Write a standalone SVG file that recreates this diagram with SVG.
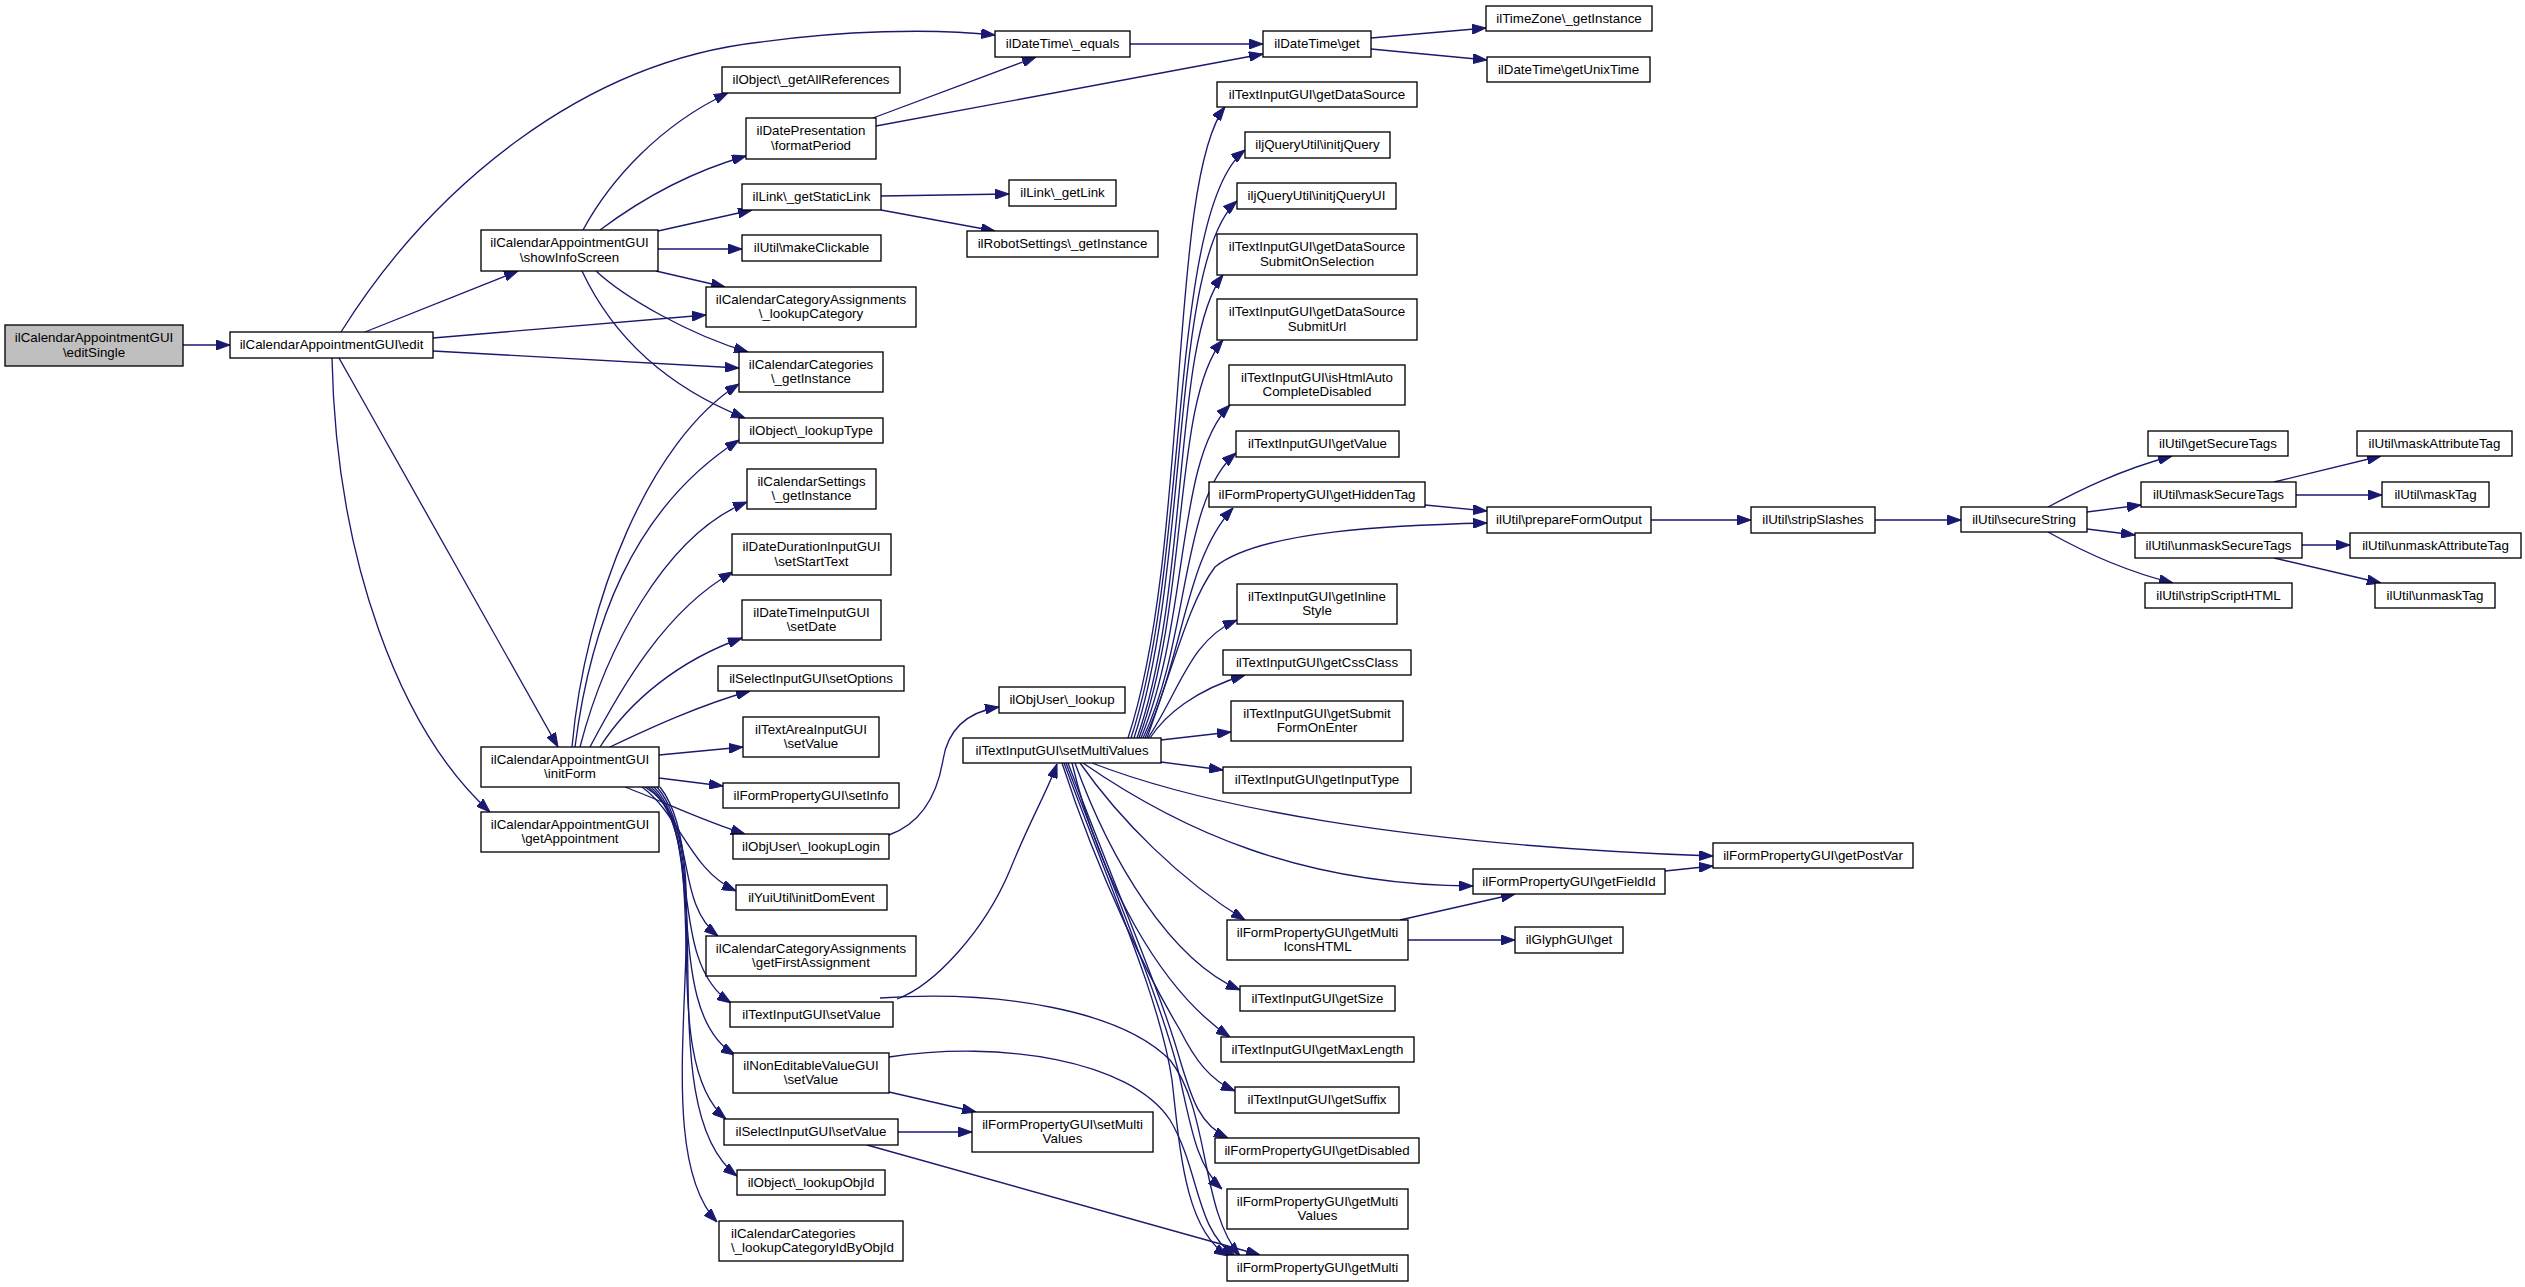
<svg xmlns="http://www.w3.org/2000/svg" width="2525" height="1287" viewBox="0 0 2525 1287">
<style>
.node rect{fill:#ffffff;stroke:#000000;stroke-width:1.33}
.node.root rect{fill:#bfbfbf}
.node text{font-family:"Liberation Sans",Arial,Helvetica,sans-serif;font-size:13.33px;fill:#000;text-anchor:middle}
.node text.l{text-anchor:start}
.edges path{fill:none;stroke:#191970;stroke-width:1.33;marker-end:url(#arr)}
</style>
<defs>
<marker id="arr" markerUnits="userSpaceOnUse" markerWidth="14" markerHeight="10" refX="14" refY="5" orient="auto" viewBox="0 0 14 10">
<path d="M0,0 L14,5 L0,10 z" fill="#191970" stroke="#191970" stroke-width="1"/>
</marker>
</defs>
<rect x="0" y="0" width="2525" height="1287" fill="#ffffff"/>
<g class="edges" id="edges">
<path d="M183,345 L230,345"/>
<path d="M341,332 C430,190 580,62 761,42 C840,31 930,28 995,35"/>
<path d="M365,332 L518,271"/>
<path d="M433,338 L706,315"/>
<path d="M433,351 C550,358 650,364 739,368"/>
<path d="M339,358 L558,747"/>
<path d="M332,358 C336,560 400,730 490,812"/>
<path d="M583,230 C610,180 660,125 728,93"/>
<path d="M600,230 C640,200 690,172 746,156"/>
<path d="M658,231 L752,210"/>
<path d="M658,249 L742,249"/>
<path d="M656,271 L725,287"/>
<path d="M596,271 C625,298 690,335 748,352"/>
<path d="M582,271 C605,320 650,380 745,418"/>
<path d="M572,747 C585,600 650,440 739,384"/>
<path d="M575,747 C590,630 630,510 739,440"/>
<path d="M580,747 C605,650 665,535 747,502"/>
<path d="M590,747 C620,690 665,610 733,572"/>
<path d="M600,747 C630,700 680,660 742,638"/>
<path d="M610,747 C650,728 700,705 750,691"/>
<path d="M659,755 L743,747"/>
<path d="M659,778 L723,786"/>
<path d="M625,787 C660,800 700,820 745,834"/>
<path d="M642,787 C680,815 690,870 736,891"/>
<path d="M645,787 C700,820 672,900 718,936"/>
<path d="M648,787 C705,830 665,960 731,1003"/>
<path d="M651,787 C710,840 660,1010 735,1055"/>
<path d="M654,787 C715,850 655,1060 726,1119"/>
<path d="M657,787 C720,860 650,1110 737,1176"/>
<path d="M660,787 C725,870 640,1140 717,1222"/>
<path d="M889,835 C925,822 938,790 943,760 C948,728 968,712 999,707"/>
<path d="M873,118 L1036,57"/>
<path d="M876,126 L1263,54"/>
<path d="M1130,44 L1263,44"/>
<path d="M1371,38 L1486,28"/>
<path d="M1371,49 L1487,60"/>
<path d="M881,196 L1009,194"/>
<path d="M881,210 L995,231"/>
<path d="M1128,738 C1190,550 1168,180 1225,107"/>
<path d="M1131,738 C1190,560 1168,210 1245,150"/>
<path d="M1134,738 C1190,570 1170,260 1237,201"/>
<path d="M1137,738 C1190,590 1172,340 1223,275"/>
<path d="M1139,738 C1190,600 1172,400 1223,340"/>
<path d="M1141,738 C1190,620 1175,460 1230,405"/>
<path d="M1143,738 C1190,640 1180,500 1236,453"/>
<path d="M1145,738 C1185,650 1185,560 1233,508"/>
<path d="M1147,738 C1175,660 1190,600 1215,567 C1260,530 1400,525 1487,523"/>
<path d="M1148,738 C1180,690 1190,640 1237,620"/>
<path d="M1150,738 C1165,715 1195,690 1245,675"/>
<path d="M1161,740 L1231,732"/>
<path d="M1161,762 L1223,770"/>
<path d="M1092,763 C1200,805 1400,845 1713,856"/>
<path d="M1083,763 C1180,830 1300,885 1473,886"/>
<path d="M1080,763 C1120,820 1180,880 1245,920"/>
<path d="M1075,763 C1110,860 1170,960 1240,990"/>
<path d="M1072,763 C1100,880 1160,990 1230,1037"/>
<path d="M1062,763 C1100,880 1150,980 1180,1030 C1195,1060 1210,1080 1235,1091"/>
<path d="M1068,763 C1120,900 1160,990 1180,1060 C1192,1100 1200,1125 1228,1138"/>
<path d="M1066,763 C1118,900 1160,1000 1178,1070 C1190,1120 1195,1165 1222,1189"/>
<path d="M1064,763 C1115,900 1160,1000 1172,1080 C1180,1150 1185,1230 1228,1256"/>
<path d="M897,999 C935,985 985,930 1010,870 C1030,820 1048,790 1057,764"/>
<path d="M880,998 C1000,990 1120,1010 1170,1060 C1210,1110 1200,1210 1240,1256"/>
<path d="M889,1057 C1000,1040 1130,1060 1170,1120 C1200,1170 1195,1230 1235,1256"/>
<path d="M867,1145 L1260,1255"/>
<path d="M889,1092 L976,1112"/>
<path d="M898,1132 L972,1132"/>
<path d="M1400,920 L1515,894"/>
<path d="M1408,940 L1515,940"/>
<path d="M1665,871 L1713,866"/>
<path d="M1425,505 L1487,511"/>
<path d="M1651,520 L1751,520"/>
<path d="M1875,520 L1961,520"/>
<path d="M2048,507 C2080,490 2120,470 2172,456"/>
<path d="M2087,512 L2141,505"/>
<path d="M2087,529 L2135,535"/>
<path d="M2048,532 C2080,550 2120,570 2173,583"/>
<path d="M2274,482 L2381,456"/>
<path d="M2296,495 L2382,495"/>
<path d="M2302,545 L2350,545"/>
<path d="M2274,558 L2381,583"/>
</g>
<g id="n_editSingle" class="node root"><rect x="5" y="325" width="178" height="41"/><text x="94" y="342">ilCalendarAppointmentGUI</text><text x="94" y="356.5">\editSingle</text></g>
<g id="n_edit" class="node"><rect x="230" y="332" width="203" height="26"/><text x="331.5" y="349">ilCalendarAppointmentGUI\edit</text></g>
<g id="n_showInfoScreen" class="node"><rect x="481" y="230" width="177" height="41"/><text x="569.5" y="247">ilCalendarAppointmentGUI</text><text x="569.5" y="261.5">\showInfoScreen</text></g>
<g id="n_initForm" class="node"><rect x="481" y="747" width="178" height="40"/><text x="570" y="763.5">ilCalendarAppointmentGUI</text><text x="570" y="778">\initForm</text></g>
<g id="n_getAppointment" class="node"><rect x="481" y="812" width="178" height="40"/><text x="570" y="828.5">ilCalendarAppointmentGUI</text><text x="570" y="843">\getAppointment</text></g>
<g id="n_equals" class="node"><rect x="995" y="31" width="135" height="26"/><text x="1062.5" y="48">ilDateTime\_equals</text></g>
<g id="n_getAllReferences" class="node"><rect x="722" y="67" width="178" height="26"/><text x="811" y="84">ilObject\_getAllReferences</text></g>
<g id="n_formatPeriod" class="node"><rect x="746" y="118" width="130" height="41"/><text x="811" y="135">ilDatePresentation</text><text x="811" y="149.5">\formatPeriod</text></g>
<g id="n_getStaticLink" class="node"><rect x="742" y="184" width="139" height="26"/><text x="811.5" y="201">ilLink\_getStaticLink</text></g>
<g id="n_getLink" class="node"><rect x="1009" y="180" width="107" height="26"/><text x="1062.5" y="197">ilLink\_getLink</text></g>
<g id="n_robotGetInstance" class="node"><rect x="967" y="231" width="191" height="26"/><text x="1062.5" y="248">ilRobotSettings\_getInstance</text></g>
<g id="n_makeClickable" class="node"><rect x="742" y="235" width="139" height="26"/><text x="811.5" y="252">ilUtil\makeClickable</text></g>
<g id="n_lookupCategory" class="node"><rect x="706" y="287" width="210" height="40"/><text x="811" y="303.5">ilCalendarCategoryAssignments</text><text x="811" y="318">\_lookupCategory</text></g>
<g id="n_catGetInstance" class="node"><rect x="739" y="352" width="144" height="40"/><text x="811" y="368.5">ilCalendarCategories</text><text x="811" y="383">\_getInstance</text></g>
<g id="n_lookupType" class="node"><rect x="739" y="418" width="144" height="25"/><text x="811" y="434.5">ilObject\_lookupType</text></g>
<g id="n_calSettings" class="node"><rect x="747" y="469" width="129" height="40"/><text x="811.5" y="485.5">ilCalendarSettings</text><text x="811.5" y="500">\_getInstance</text></g>
<g id="n_setStartText" class="node"><rect x="732" y="534" width="159" height="41"/><text x="811.5" y="551">ilDateDurationInputGUI</text><text x="811.5" y="565.5">\setStartText</text></g>
<g id="n_setDate" class="node"><rect x="742" y="600" width="139" height="40"/><text x="811.5" y="616.5">ilDateTimeInputGUI</text><text x="811.5" y="631">\setDate</text></g>
<g id="n_setOptions" class="node"><rect x="718" y="666" width="186" height="25"/><text x="811" y="682.5">ilSelectInputGUI\setOptions</text></g>
<g id="n_textAreaSetValue" class="node"><rect x="743" y="717" width="136" height="40"/><text x="811" y="733.5">ilTextAreaInputGUI</text><text x="811" y="748">\setValue</text></g>
<g id="n_setInfo" class="node"><rect x="723" y="783" width="176" height="25"/><text x="811" y="799.5">ilFormPropertyGUI\setInfo</text></g>
<g id="n_lookupLogin" class="node"><rect x="733" y="834" width="156" height="25"/><text x="811" y="850.5">ilObjUser\_lookupLogin</text></g>
<g id="n_initDomEvent" class="node"><rect x="736" y="885" width="151" height="25"/><text x="811.5" y="901.5">ilYuiUtil\initDomEvent</text></g>
<g id="n_getFirstAssignment" class="node"><rect x="706" y="936" width="210" height="40"/><text x="811" y="952.5">ilCalendarCategoryAssignments</text><text x="811" y="967">\getFirstAssignment</text></g>
<g id="n_textSetValue" class="node"><rect x="730" y="1002" width="163" height="25"/><text x="811.5" y="1018.5">ilTextInputGUI\setValue</text></g>
<g id="n_nonEditSetValue" class="node"><rect x="733" y="1053" width="156" height="40"/><text x="811" y="1069.5">ilNonEditableValueGUI</text><text x="811" y="1084">\setValue</text></g>
<g id="n_selectSetValue" class="node"><rect x="724" y="1119" width="174" height="26"/><text x="811" y="1136">ilSelectInputGUI\setValue</text></g>
<g id="n_lookupObjId" class="node"><rect x="737" y="1170" width="148" height="25"/><text x="811" y="1186.5">ilObject\_lookupObjId</text></g>
<g id="n_lookupCategoryIdByObjId" class="node"><rect x="719" y="1221" width="184" height="40"/><text class="l" x="731" y="1237.5">ilCalendarCategories</text><text class="l" x="731" y="1252">\_lookupCategoryIdByObjId</text></g>
<g id="n_objUserLookup" class="node"><rect x="999" y="687" width="126" height="26"/><text x="1062" y="704">ilObjUser\_lookup</text></g>
<g id="n_setMultiValues" class="node"><rect x="963" y="738" width="198" height="25"/><text x="1062" y="754.5">ilTextInputGUI\setMultiValues</text></g>
<g id="n_fpSetMultiValues" class="node"><rect x="972" y="1112" width="181" height="40"/><text x="1062.5" y="1128.5">ilFormPropertyGUI\setMulti</text><text x="1062.5" y="1143">Values</text></g>
<g id="n_dtGet" class="node"><rect x="1263" y="31" width="108" height="26"/><text x="1317" y="48">ilDateTime\get</text></g>
<g id="n_tzGetInstance" class="node"><rect x="1486" y="6" width="166" height="25"/><text x="1569" y="22.5">ilTimeZone\_getInstance</text></g>
<g id="n_getUnixTime" class="node"><rect x="1487" y="57" width="163" height="25"/><text x="1568.5" y="73.5">ilDateTime\getUnixTime</text></g>
<g id="n_getDataSource" class="node"><rect x="1217" y="82" width="200" height="25"/><text x="1317" y="98.5">ilTextInputGUI\getDataSource</text></g>
<g id="n_initjQuery" class="node"><rect x="1245" y="132" width="145" height="26"/><text x="1317.5" y="149">iljQueryUtil\initjQuery</text></g>
<g id="n_initjQueryUI" class="node"><rect x="1237" y="183" width="159" height="26"/><text x="1316.5" y="200">iljQueryUtil\initjQueryUI</text></g>
<g id="n_dsSubmitOnSelection" class="node"><rect x="1217" y="234" width="200" height="41"/><text x="1317" y="251">ilTextInputGUI\getDataSource</text><text x="1317" y="265.5">SubmitOnSelection</text></g>
<g id="n_dsSubmitUrl" class="node"><rect x="1217" y="299" width="200" height="41"/><text x="1317" y="316">ilTextInputGUI\getDataSource</text><text x="1317" y="330.5">SubmitUrl</text></g>
<g id="n_isHtmlAuto" class="node"><rect x="1229" y="365" width="176" height="40"/><text x="1317" y="381.5">ilTextInputGUI\isHtmlAuto</text><text x="1317" y="396">CompleteDisabled</text></g>
<g id="n_getValue" class="node"><rect x="1236" y="431" width="163" height="26"/><text x="1317.5" y="448">ilTextInputGUI\getValue</text></g>
<g id="n_getHiddenTag" class="node"><rect x="1209" y="482" width="216" height="25"/><text x="1317" y="498.5">ilFormPropertyGUI\getHiddenTag</text></g>
<g id="n_getInlineStyle" class="node"><rect x="1237" y="584" width="160" height="40"/><text x="1317" y="600.5">ilTextInputGUI\getInline</text><text x="1317" y="615">Style</text></g>
<g id="n_getCssClass" class="node"><rect x="1223" y="650" width="188" height="25"/><text x="1317" y="666.5">ilTextInputGUI\getCssClass</text></g>
<g id="n_getSubmitFormOnEnter" class="node"><rect x="1231" y="701" width="172" height="40"/><text x="1317" y="717.5">ilTextInputGUI\getSubmit</text><text x="1317" y="732">FormOnEnter</text></g>
<g id="n_getInputType" class="node"><rect x="1223" y="767" width="188" height="26"/><text x="1317" y="784">ilTextInputGUI\getInputType</text></g>
<g id="n_getMultiIconsHTML" class="node"><rect x="1227" y="920" width="181" height="40"/><text x="1317.5" y="936.5">ilFormPropertyGUI\getMulti</text><text x="1317.5" y="951">IconsHTML</text></g>
<g id="n_getSize" class="node"><rect x="1240" y="986" width="155" height="25"/><text x="1317.5" y="1002.5">ilTextInputGUI\getSize</text></g>
<g id="n_getMaxLength" class="node"><rect x="1221" y="1037" width="193" height="25"/><text x="1317.5" y="1053.5">ilTextInputGUI\getMaxLength</text></g>
<g id="n_getSuffix" class="node"><rect x="1235" y="1087" width="164" height="26"/><text x="1317" y="1104">ilTextInputGUI\getSuffix</text></g>
<g id="n_getDisabled" class="node"><rect x="1215" y="1138" width="204" height="25"/><text x="1317" y="1154.5">ilFormPropertyGUI\getDisabled</text></g>
<g id="n_getMultiValues" class="node"><rect x="1227" y="1189" width="181" height="40"/><text x="1317.5" y="1205.5">ilFormPropertyGUI\getMulti</text><text x="1317.5" y="1220">Values</text></g>
<g id="n_getMulti" class="node"><rect x="1227" y="1255" width="181" height="26"/><text x="1317.5" y="1272">ilFormPropertyGUI\getMulti</text></g>
<g id="n_prepareFormOutput" class="node"><rect x="1487" y="507" width="164" height="26"/><text x="1569" y="524">ilUtil\prepareFormOutput</text></g>
<g id="n_stripSlashes" class="node"><rect x="1751" y="507" width="124" height="26"/><text x="1813" y="524">ilUtil\stripSlashes</text></g>
<g id="n_secureString" class="node"><rect x="1961" y="507" width="126" height="25"/><text x="2024" y="523.5">ilUtil\secureString</text></g>
<g id="n_getSecureTags" class="node"><rect x="2148" y="431" width="140" height="25"/><text x="2218" y="447.5">ilUtil\getSecureTags</text></g>
<g id="n_maskSecureTags" class="node"><rect x="2141" y="482" width="155" height="25"/><text x="2218.5" y="498.5">ilUtil\maskSecureTags</text></g>
<g id="n_unmaskSecureTags" class="node"><rect x="2135" y="533" width="167" height="25"/><text x="2218.5" y="549.5">ilUtil\unmaskSecureTags</text></g>
<g id="n_stripScriptHTML" class="node"><rect x="2145" y="583" width="147" height="25"/><text x="2218.5" y="599.5">ilUtil\stripScriptHTML</text></g>
<g id="n_maskAttributeTag" class="node"><rect x="2357" y="431" width="155" height="25"/><text x="2434.5" y="447.5">ilUtil\maskAttributeTag</text></g>
<g id="n_maskTag" class="node"><rect x="2382" y="482" width="107" height="25"/><text x="2435.5" y="498.5">ilUtil\maskTag</text></g>
<g id="n_unmaskAttributeTag" class="node"><rect x="2350" y="533" width="171" height="25"/><text x="2435.5" y="549.5">ilUtil\unmaskAttributeTag</text></g>
<g id="n_unmaskTag" class="node"><rect x="2375" y="583" width="120" height="25"/><text x="2435" y="599.5">ilUtil\unmaskTag</text></g>
<g id="n_getPostVar" class="node"><rect x="1713" y="843" width="200" height="25"/><text x="1813" y="859.5">ilFormPropertyGUI\getPostVar</text></g>
<g id="n_getFieldId" class="node"><rect x="1473" y="869" width="192" height="25"/><text x="1569" y="885.5">ilFormPropertyGUI\getFieldId</text></g>
<g id="n_glyphGet" class="node"><rect x="1515" y="927" width="108" height="26"/><text x="1569" y="944">ilGlyphGUI\get</text></g>
</svg>
